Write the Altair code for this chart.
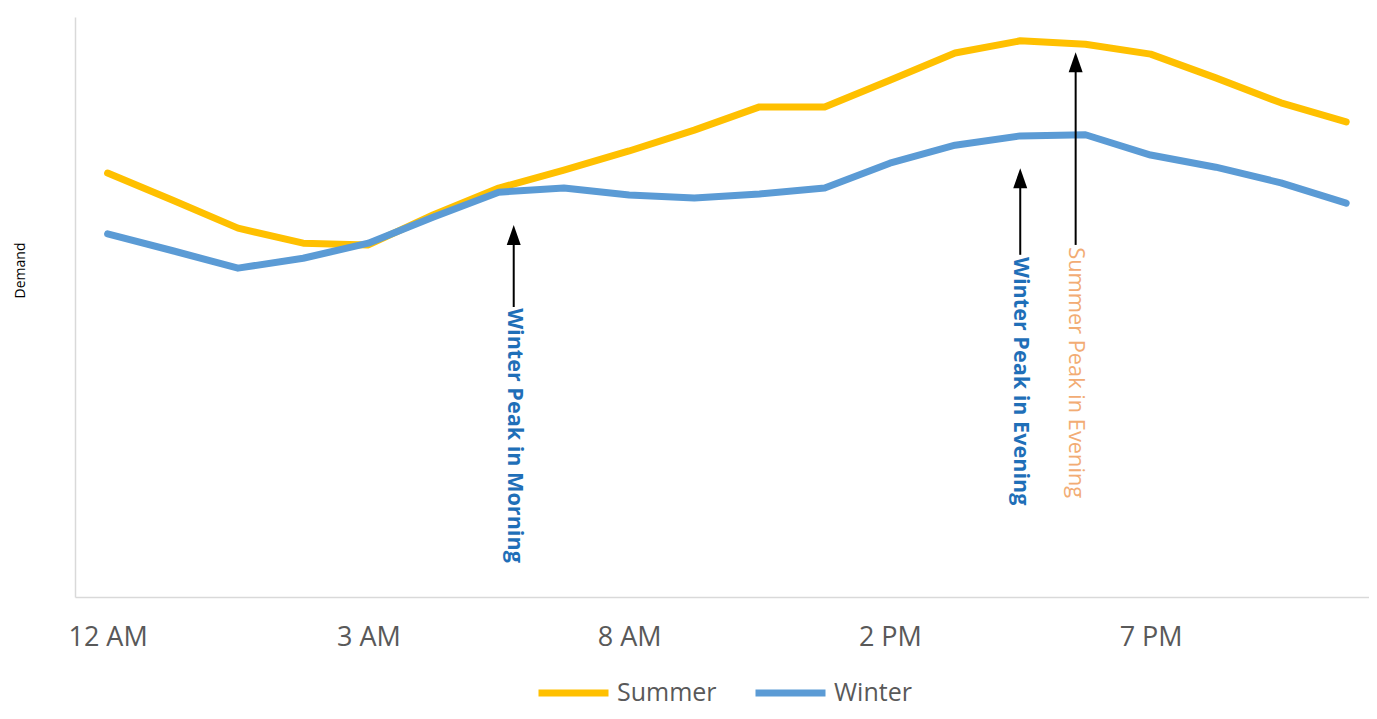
import altair as alt
import pandas as pd

# ---- data ----
slots = list(range(20))
summer = [73.1, 68.4, 63.6, 61.0, 60.7, 65.9, 70.5, 73.6, 76.9, 80.5,
          84.5, 84.5, 89.1, 93.8, 95.9, 95.3, 93.6, 89.5, 85.2, 81.9]
winter = [62.6, 59.7, 56.7, 58.4, 61.0, 65.5, 69.8, 70.5, 69.3, 68.8,
          69.5, 70.5, 74.8, 77.9, 79.5, 79.7, 76.2, 74.1, 71.4, 67.9]
series_names = ["Summer", "Winter"]
series_colors = ["#FFC000", "#5B9BD5"]

tick_values = [0, 4, 8, 12, 16]
tick_labels = ["12 AM", "3 AM", "8 AM", "2 PM", "7 PM"]

ann_text = ["Winter Peak in Morning", "Winter Peak in Evening", "Summer Peak in Evening"]
ann_x = [6.23, 14.0, 14.85]
ann_head = [62.4, 72.2, 92.2]
ann_base = [50.0, 59.0, 60.7]
ann_text_y = [49.8, 58.6, 60.3]
ann_color = ["#1F6FB8", "#1F6FB8", "#F2AC74"]
ann_bold = [True, True, False]

# ---- tables ----
lines_df = pd.DataFrame({
    "slot": slots * 2,
    "demand": summer + winter,
    "season": ["Summer"] * len(slots) + ["Winter"] * len(slots),
})
ann_df = pd.DataFrame({
    "x": ann_x, "head": ann_head, "base": ann_base, "ty": ann_text_y,
    "text": ann_text, "col": ann_color, "bold": ann_bold,
})

label_expr = " : ".join(
    f"datum.value == {v} ? '{l}'" for v, l in zip(tick_values, tick_labels)
) + " : ''"

FONT = "Open Sans"

x_enc = alt.X("slot:Q",
              scale=alt.Scale(domain=[-0.5, 19.35], nice=False, zero=False),
              axis=alt.Axis(values=tick_values, labelExpr=label_expr, title=None,
                            ticks=False, grid=False, domainColor="#D9D9D9",
                            domainWidth=1.5, labelFontSize=27, labelFont=FONT,
                            labelColor="#595959", labelPadding=27))
y_scale = alt.Scale(domain=[0, 100], nice=False, zero=False)

lines = alt.Chart(lines_df).mark_line(
    strokeWidth=7, strokeCap="round", strokeJoin="round"
).encode(
    x=x_enc,
    y=alt.Y("demand:Q", scale=y_scale,
            axis=alt.Axis(title="Demand", labels=False, ticks=False, grid=False,
                          domainColor="#D9D9D9", domainWidth=1.5,
                          titleFontSize=14, titleFont=FONT, titleFontWeight="normal",
                          titleColor="#000000", titleX=-55, titleY=253,
                          titleAngle=270, titleAlign="center", titleBaseline="middle")),
    color=alt.Color("season:N",
                    scale=alt.Scale(domain=series_names, range=series_colors),
                    legend=alt.Legend(orient="none", legendX=460, legendY=658,
                                      direction="horizontal", title=None,
                                      symbolType="stroke", symbolSize=4900,
                                      symbolStrokeWidth=7, clipHeight=36,
                                      labelFontSize=25, labelFont=FONT,
                                      labelColor="#595959", labelOffset=5,
                                      labelBaseline="middle",
                                      columnPadding=35, padding=0)),
)

shafts = alt.Chart(ann_df).mark_rule(color="black", strokeWidth=2).encode(
    x="x:Q", y=alt.Y("base:Q", scale=y_scale), y2="head:Q"
)
heads = alt.Chart(ann_df).mark_point(
    shape="M0,-1L0.7,1L-0.7,1Z", size=400, filled=True, color="black", opacity=1
).encode(x="x:Q", y=alt.Y("head:Q", scale=y_scale))

text_bold = alt.Chart(ann_df).transform_filter("datum.bold").mark_text(
    angle=90, align="left", baseline="middle", fontSize=21.6, font=FONT, fontWeight="bold"
).encode(x="x:Q", y=alt.Y("ty:Q", scale=y_scale), text="text:N",
         color=alt.Color("col:N", scale=None))
text_norm = alt.Chart(ann_df).transform_filter("!datum.bold").mark_text(
    angle=90, align="left", baseline="middle", fontSize=21.8, font=FONT, fontWeight="normal"
).encode(x="x:Q", y=alt.Y("ty:Q", scale=y_scale), text="text:N",
         color=alt.Color("col:N", scale=None))

chart = alt.layer(lines, shafts, heads, text_bold, text_norm).properties(
    width=1294, height=580,
    autosize=alt.AutoSizeParams(type="none"),
    padding={"left": 67, "top": 9, "right": 0, "bottom": 114},
    background="white",
).configure_view(stroke=None)

chart.save("out.html", embed_options={"renderer": "svg", "actions": False})
